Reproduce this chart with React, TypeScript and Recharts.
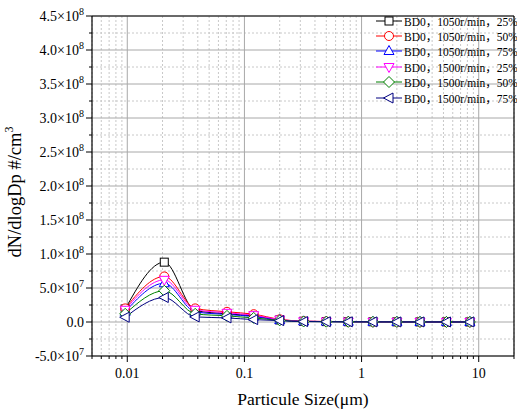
import React from "react";
import {
  CartesianGrid,
  Legend,
  Line,
  LineChart,
  ReferenceLine,
  XAxis,
  YAxis,
} from "recharts";

// particle size (µm), one point per impactor stage
const sizes = [0.0096, 0.0207, 0.038, 0.071, 0.12, 0.2, 0.32, 0.5, 0.77, 1.25, 2.0, 3.15, 5.3, 8.4];

// dN/dlogDp (#/cm3)
const bd1050r25 = [1.9e7, 8.8e7, 1.7e7, 1.2e7, 0.9e7, 0.3e7, 0.1e7, 0.06e7, 0.04e7, 0.03e7, 0.02e7, 0.01e7, 0.01e7, 0.005e7];
const bd1050r50 = [2.0e7, 6.7e7, 2.0e7, 1.5e7, 1.15e7, 0.4e7, 0.12e7, 0.08e7, 0.05e7, 0.03e7, 0.02e7, 0.01e7, 0.01e7, 0.005e7];
const bd1050r75 = [1.5e7, 5.7e7, 1.5e7, 1.1e7, 0.8e7, 0.28e7, 0.09e7, 0.06e7, 0.04e7, 0.03e7, 0.02e7, 0.01e7, 0.01e7, 0.005e7];
const bd1500r25 = [1.8e7, 6.2e7, 1.8e7, 1.35e7, 1.0e7, 0.35e7, 0.11e7, 0.07e7, 0.05e7, 0.03e7, 0.02e7, 0.01e7, 0.01e7, 0.005e7];
const bd1500r50 = [1.2e7, 4.6e7, 1.2e7, 0.9e7, 0.6e7, 0.24e7, 0.08e7, 0.05e7, 0.03e7, 0.02e7, 0.01e7, 0.01e7, 0.005e7, 0.005e7];
const bd1500r75 = [0.7e7, 3.6e7, 0.75e7, 0.6e7, 0.35e7, 0.2e7, 0.06e7, 0.04e7, 0.03e7, 0.02e7, 0.01e7, 0.01e7, 0.005e7, 0.005e7];

const seriesNames = [
  "BD0，1050r/min，25%",
  "BD0，1050r/min，50%",
  "BD0，1050r/min，75%",
  "BD0，1500r/min，25%",
  "BD0，1500r/min，50%",
  "BD0，1500r/min，75%",
];

const xMajorTicks = [0.01, 0.1, 1, 10];
const xMinorTicks = [
  0.005, 0.006, 0.007, 0.008, 0.009,
  0.02, 0.03, 0.04, 0.05, 0.06, 0.07, 0.08, 0.09,
  0.2, 0.3, 0.4, 0.5, 0.6, 0.7, 0.8, 0.9,
  2, 3, 4, 5, 6, 7, 8, 9, 20,
];
const yMajorTicks = [-5e7, 0, 5e7, 1e8, 1.5e8, 2e8, 2.5e8, 3e8, 3.5e8, 4e8, 4.5e8];
const yMinorTicks = [-2.5e7, 2.5e7, 7.5e7, 1.25e8, 1.75e8, 2.25e8, 2.75e8, 3.25e8, 3.75e8, 4.25e8];

const data = sizes.map((d, i) => ({
  d,
  s1: bd1050r25[i],
  s2: bd1050r50[i],
  s3: bd1050r75[i],
  s4: bd1500r25[i],
  s5: bd1500r50[i],
  s6: bd1500r75[i],
}));

const series = [
  { key: "s1", color: "#000000", shape: "square" },
  { key: "s2", color: "#ff0000", shape: "circle" },
  { key: "s3", color: "#0000ff", shape: "up" },
  { key: "s4", color: "#ff00ff", shape: "down" },
  { key: "s5", color: "#008000", shape: "diamond" },
  { key: "s6", color: "#000080", shape: "left" },
];

const FONT = "'Liberation Serif', 'Times New Roman', serif";
const LEGEND_FONT = "'Liberation Serif', 'Times New Roman', 'Noto Sans CJK SC', serif";

function Marker({ cx, cy, shape, color }: { cx: number; cy: number; shape: string; color: string }) {
  const p = { fill: "#fff", stroke: color, strokeWidth: 1 };
  switch (shape) {
    case "square":
      return <rect x={cx - 4} y={cy - 4} width={8} height={8} {...p} />;
    case "circle":
      return <circle cx={cx} cy={cy} r={4.5} {...p} />;
    case "up":
      return <polygon points={`${cx},${cy - 5.5} ${cx - 5},${cy + 3.5} ${cx + 5},${cy + 3.5}`} {...p} />;
    case "down":
      return <polygon points={`${cx},${cy + 5.5} ${cx - 5},${cy - 3.5} ${cx + 5},${cy - 3.5}`} {...p} />;
    case "diamond":
      return <polygon points={`${cx},${cy - 5.5} ${cx + 5.5},${cy} ${cx},${cy + 5.5} ${cx - 5.5},${cy}`} {...p} />;
    default:
      return <polygon points={`${cx - 5.5},${cy} ${cx + 4},${cy - 5} ${cx + 4},${cy + 5}`} {...p} />;
  }
}

function XTick(props: any) {
  const { x, y, payload } = props;
  const major = xMajorTicks.includes(payload.value);
  return (
    <g>
      <line x1={x} y1={y} x2={x} y2={y + (major ? 6 : 3)} stroke="#000" />
      {major && (
        <text x={x} y={y + 22} textAnchor="middle" fontFamily={FONT} fontSize={14} fill="#000">
          {String(payload.value)}
        </text>
      )}
    </g>
  );
}

function YTick(props: any) {
  const { x, y, payload } = props;
  const v = payload.value as number;
  const major = yMajorTicks.includes(v);
  let label: React.ReactNode = null;
  if (major) {
    if (v === 0) {
      label = "0.0";
    } else {
      const exp = Math.floor(Math.log10(Math.abs(v)));
      const mant = (v / Math.pow(10, exp)).toFixed(1);
      label = (
        <>
          {`${mant}×10`}
          <tspan dy={-6} fontSize={10}>{exp}</tspan>
        </>
      );
    }
  }
  return (
    <g>
      <line x1={x - (major ? 6 : 3)} y1={y} x2={x} y2={y} stroke="#000" />
      {major && (
        <text x={x - 8} y={y + 5} textAnchor="end" fontFamily={FONT} fontSize={14} fill="#000">
          {label}
        </text>
      )}
    </g>
  );
}

function LegendContent(props: any) {
  const { payload } = props;
  return (
    <div>
      {(payload || []).map((item: any, i: number) => {
        const s = series.find((e) => e.key === item.dataKey) || series[0];
        return (
          <div key={i} style={{ display: "flex", alignItems: "center", height: 15.4 }}>
            <svg width={28} height={14} style={{ display: "block" }}>
              <line x1={0} y1={7} x2={26} y2={7} stroke={s.color} strokeWidth={1} />
              <Marker cx={13} cy={7} shape={s.shape} color={s.color} />
            </svg>
            <span style={{ fontFamily: LEGEND_FONT, fontSize: 11.5, color: "#000", whiteSpace: "nowrap" }}>
              {item.value}
            </span>
          </div>
        );
      })}
    </div>
  );
}

export default function App() {
  return (
    <div style={{ position: "absolute", left: 0, top: 0, width: 517, height: 414, background: "#fff" }}>
      <LineChart width={517} height={414} data={data} margin={{ top: 16, right: 3, bottom: 0, left: 0 }}>
        <CartesianGrid
          stroke="#c8c8c8"
          strokeDasharray="2 2"
          horizontalValues={yMinorTicks}
          verticalValues={xMinorTicks}
        />
        <CartesianGrid stroke="#a8a8a8" horizontalValues={yMajorTicks} verticalValues={xMajorTicks} />
        <XAxis
          dataKey="d"
          type="number"
          scale="log"
          domain={[0.005, 20]}
          allowDataOverflow
          ticks={[...xMajorTicks, ...xMinorTicks]}
          interval={0}
          tickSize={0}
          tickMargin={0}
          tickLine={false}
          tick={<XTick />}
          axisLine={{ stroke: "#000", strokeWidth: 1.2 }}
          height={58}
          label={(p: any) => {
            const vb = p.viewBox;
            return (
              <text x={vb.x + vb.width / 2} y={405} textAnchor="middle" fontFamily={FONT} fontSize={17.5} fill="#000">
                Particule Size(μm)
              </text>
            );
          }}
        />
        <YAxis
          type="number"
          domain={[-5e7, 4.5e8]}
          allowDataOverflow
          ticks={[...yMajorTicks, ...yMinorTicks].sort((a, b) => a - b)}
          interval={0}
          tickSize={0}
          tickMargin={0}
          tickLine={false}
          tick={<YTick />}
          axisLine={{ stroke: "#000", strokeWidth: 1.2 }}
          width={92}
          label={(p: any) => {
            const vb = p.viewBox;
            const cy = vb.y + vb.height / 2 + 6;
            return (
              <text
                x={21}
                y={cy}
                transform={`rotate(-90 21 ${cy})`}
                textAnchor="middle"
                fontFamily={FONT}
                fontSize={18.5}
                fill="#000"
              >
                dN/dlogDp #/cm
                <tspan dy={-8} fontSize={12}>3</tspan>
              </text>
            );
          }}
        />
        <ReferenceLine y={4.5e8} stroke="#000" strokeWidth={1.2} />
        <ReferenceLine x={20} stroke="#000" strokeWidth={1.2} />
        {series.map((s, i) => (
          <Line
            key={s.key}
            type="monotone"
            dataKey={s.key}
            name={seriesNames[i]}
            stroke={s.color}
            strokeWidth={1}
            isAnimationActive={false}
            dot={(p: any) => (
              <Marker key={`${s.key}-${p.index}`} cx={p.cx} cy={p.cy} shape={s.shape} color={s.color} />
            )}
            activeDot={false}
          />
        ))}
        <Legend
          layout="horizontal"
          verticalAlign="middle"
          align="center"
          content={<LegendContent />}
          wrapperStyle={{ position: "absolute", top: 13, left: 376, width: 145 }}
        />
      </LineChart>
    </div>
  );
}
